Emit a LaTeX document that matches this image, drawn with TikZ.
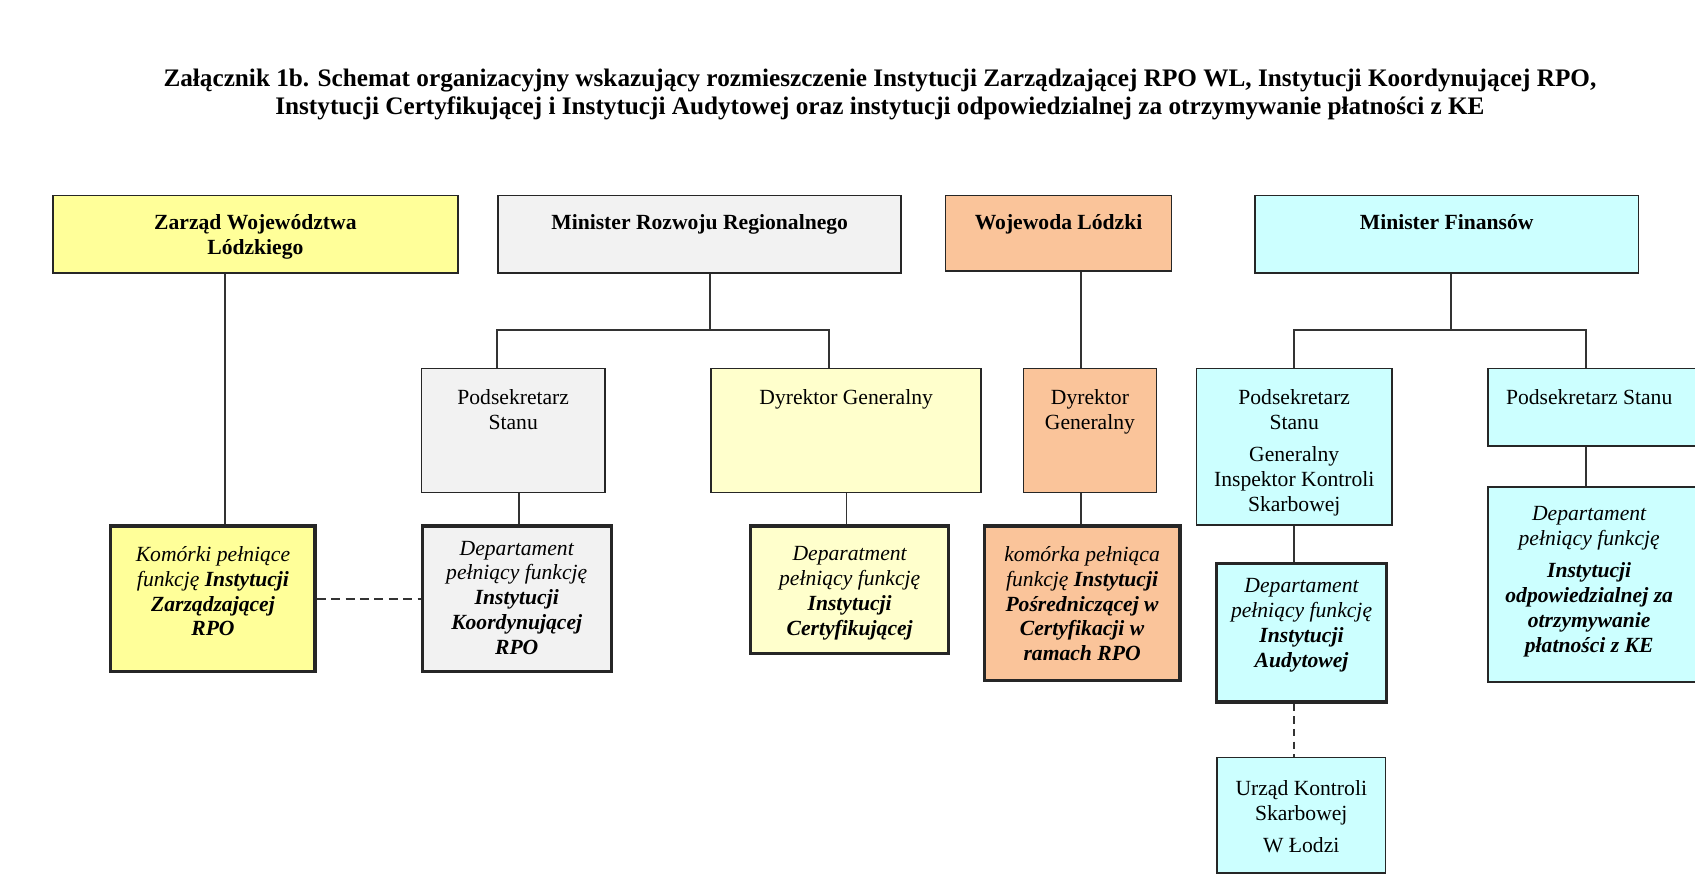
\documentclass[tikz,border=0pt]{standalone}
\usepackage{fontspec}
\setmainfont{Liberation Serif}
\usepackage{xcolor}
\definecolor{yel}{HTML}{FFFF99}
\definecolor{lyel}{HTML}{FFFFCC}
\definecolor{gry}{HTML}{F2F2F2}
\definecolor{org}{HTML}{FAC49A}
\definecolor{cyn}{HTML}{CCFFFF}
\tikzstyle{unit} = [draw=black!85, line width=0.9pt, anchor=north west, inner sep=0pt]
\tikzstyle{dept} = [unit, line width=1.8pt]
\tikzstyle{txt} = [anchor=north, align=center, inner sep=0pt, yshift=-12pt, font=\fontsize{12}{13.8}\selectfont]
\tikzstyle{head} = [txt, yshift=1pt, font=\fontsize{12}{13.8}\selectfont\bfseries]
\tikzstyle{itxt} = [txt, font=\fontsize{12}{13.8}\selectfont\itshape]
\tikzstyle{link} = [line width=0.9pt, draw=black!80]
\tikzset{wh/.style 2 args={minimum width=#1*0.6pt, minimum height=#2*0.6pt}}
\newcommand{\bi}[1]{\textbf{#1}}

\begin{document}
\begin{tikzpicture}[x=0.6pt, y=-0.6pt]
\useasboundingbox (0,0) rectangle (1568,819);
\clip (0,0) rectangle (1568,819);
\node[font=\fontsize{14}{15.5}\selectfont\bfseries, align=center, anchor=north] (title) at (814,58)
  {Załącznik 1b. Schemat organizacyjny wskazujący rozmieszczenie Instytucji Zarządzającej RPO WL, Instytucji Koordynującej RPO,\\
   Instytucji Certyfikującej i Instytucji Audytowej oraz instytucji odpowiedzialnej za otrzymywanie płatności z KE};

% top row
\node[unit, fill=yel, wh={375}{72}, label={[head]north:{Zarząd Województwa\\Lódzkiego}}] (zwl) at (48,180) {};
\node[unit, fill=gry, wh={373}{72}, label={[head]north:{Minister Rozwoju Regionalnego}}] (mrr) at (460,180) {};
\node[unit, fill=org, wh={209}{70}, label={[head]north:{Wojewoda Lódzki}}] (wl) at (874,180) {};
\node[unit, fill=cyn, wh={355}{72}, label={[head]north:{Minister Finansów}}] (mf) at (1160,180) {};

% second row
\node[unit, fill=gry, wh={170}{115}, label={[txt]north:{Podsekretarz\\Stanu}}] (ps1) at (389,340) {};
\node[unit, fill=lyel, wh={250}{115}, label={[txt]north:{Dyrektor Generalny}}] (dg1) at (657,340) {};
\node[unit, fill=org, wh={123}{115}, label={[txt]north:{Dyrektor\\Generalny}}] (dg2) at (946,340) {};
\node[unit, fill=cyn, wh={181}{145}, label={[txt]north:{Podsekretarz\\Stanu\\[4pt]Generalny\\Inspektor Kontroli\\Skarbowej}}] (ps2) at (1106,340) {};
\node[unit, fill=cyn, wh={200}{72}, label={[txt, xshift=-4pt]north:{Podsekretarz Stanu}}] (ps3) at (1376,340) {};

% departments
\node[dept, fill=yel, wh={189}{135}, label={[itxt]north:{Komórki pełniące\\funkcję \bi{Instytucji}\\\bi{Zarządzającej}\\\bi{RPO}}}] (kiz) at (101,485) {};
\node[dept, fill=gry, wh={175}{135}, label={[itxt, yshift=3pt]north:{Departament\\pełniący funkcję\\\bi{Instytucji}\\\bi{Koordynującej}\\\bi{RPO}}}] (dik) at (389,485) {};
\node[dept, fill=lyel, wh={183}{118}, label={[itxt]north:{Deparatment\\pełniący funkcję\\\bi{Instytucji}\\\bi{Certyfikującej}}}] (dic) at (693,485) {};
\node[dept, fill=org, wh={181}{143}, label={[itxt]north:{komórka pełniąca\\funkcję \bi{Instytucji}\\\bi{Pośredniczącej w}\\\bi{Certyfikacji w}\\\bi{ramach RPO}}}] (kip) at (909,485) {};
\node[dept, fill=cyn, wh={157}{128}, label={[itxt, yshift=3pt]north:{Departament\\pełniący funkcję\\\bi{Instytucji}\\\bi{Audytowej}}}] (dia) at (1124,520) {};
\node[unit, fill=cyn, wh={200}{180}, label={[itxt, xshift=-4pt, yshift=1pt]north:{Departament\\pełniący funkcję\\[4pt]\bi{Instytucji}\\\bi{odpowiedzialnej za}\\\bi{otrzymywanie}\\\bi{płatności z KE}}}] (dko) at (1376,450) {};
\node[unit, fill=cyn, wh={156}{107}, label={[txt, yshift=-1pt]north:{Urząd Kontroli\\Skarbowej\\[4pt]W Łodzi}}] (uks) at (1125,700) {};

% connectors
\coordinate (j1) at (657,305);
\coordinate (j1l) at (460,305);
\coordinate (j1r) at (767,305);
\coordinate (j2) at (1342,305);
\coordinate (j2l) at (1197,305);
\coordinate (j2r) at (1467,305);
\draw[link] (zwl.south -| 208,0) -- (kiz.north -| 208,0);
\draw[link] (mrr.south -| j1) -- (j1);
\draw[link] (j1l |- ps1.north) -- (j1l) -- (j1r) -- (j1r |- dg1.north);
\draw[link] (wl.south -| 1000,0) -- (dg2.north -| 1000,0);
\draw[link] (mf.south -| j2) -- (j2);
\draw[link] (j2l |- ps2.north) -- (j2l) -- (j2r) -- (j2r |- ps3.north);
\draw[link] (ps1.south -| 480,0) -- (dik.north -| 480,0);
\draw[link] (dg1.south -| 783,0) -- (dic.north -| 783,0);
\draw[link] (dg2.south -| 1000,0) -- (kip.north -| 1000,0);
\draw[link] (ps2.south -| j2l) -- (dia.north -| j2l);
\draw[link] (ps3.south -| j2r) -- (dko.north -| j2r);
\draw[link, dashed, dash pattern=on 5pt off 3pt] (kiz.east) -- (dik.west |- kiz.east);
\draw[link, dashed, dash pattern=on 4pt off 3pt] (dia.south -| j2l) -- (uks.north -| j2l);
\end{tikzpicture}
\end{document}
